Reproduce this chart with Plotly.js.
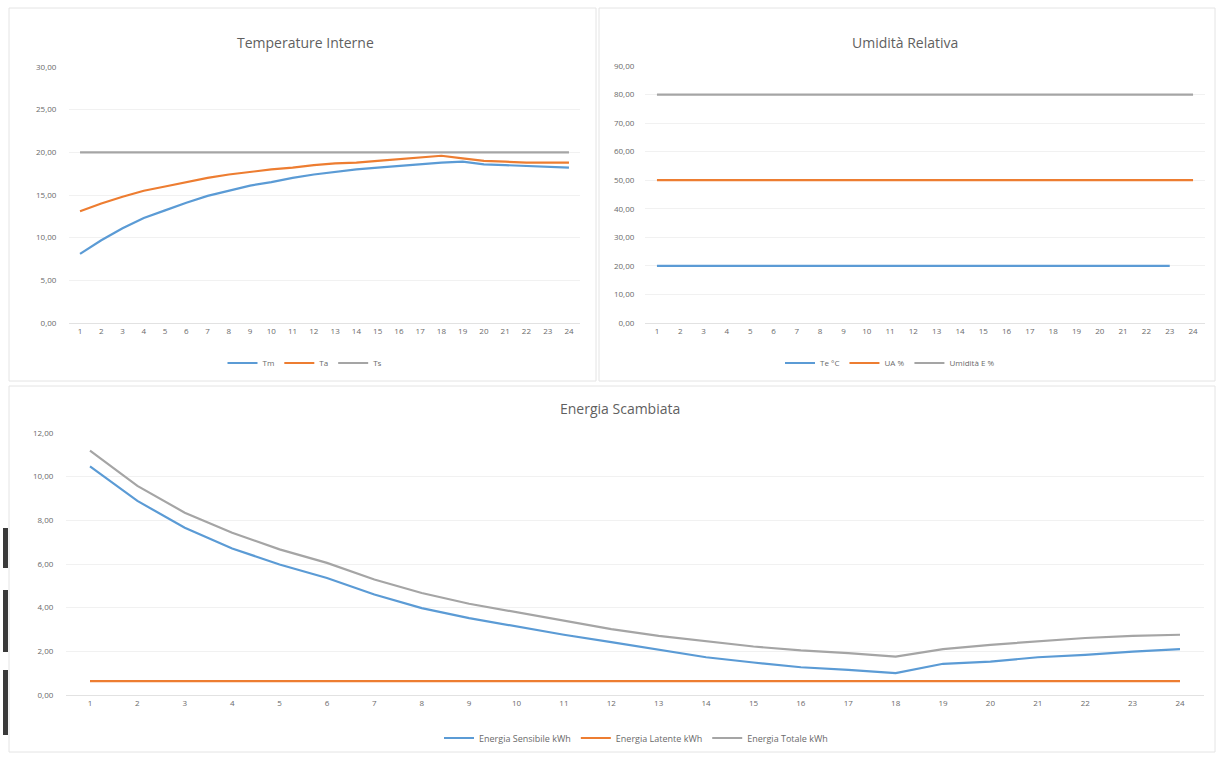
<!DOCTYPE html>
<html>
<head>
<meta charset="utf-8">
<script src="https://cdn.plot.ly/plotly-3.0.1.min.js"></script>
<style>html,body{margin:0;padding:0;background:#fff;}#chart{width:1223px;height:758px;}</style>
</head>
<body>
<div id="chart"></div>
<script>
// ---- data ----
const hours = [1,2,3,4,5,6,7,8,9,10,11,12,13,14,15,16,17,18,19,20,21,22,23,24];

// Temperature Interne
const tempNames = ["Tm", "Ta", "Ts"];
const tm = [8.1,9.7,11.1,12.3,13.2,14.1,14.9,15.5,16.1,16.5,17.0,17.4,17.7,18.0,18.2,18.4,18.6,18.8,18.9,18.6,18.5,18.4,18.3,18.2];
const ta = [13.1,14.0,14.8,15.5,16.0,16.5,17.0,17.4,17.7,18.0,18.2,18.5,18.7,18.8,19.0,19.2,19.4,19.6,19.3,19.0,18.9,18.8,18.8,18.8];
const ts = [20,20,20,20,20,20,20,20,20,20,20,20,20,20,20,20,20,20,20,20,20,20,20,20];

// Umidità Relativa
const humNames = ["Te °C", "UA %", "Umidità E %"];
const te = [20,20,20,20,20,20,20,20,20,20,20,20,20,20,20,20,20,20,20,20,20,20,20,null];
const ua = [50,50,50,50,50,50,50,50,50,50,50,50,50,50,50,50,50,50,50,50,50,50,50,50];
const ue = [80,80,80,80,80,80,80,80,80,80,80,80,80,80,80,80,80,80,80,80,80,80,80,80];

// Energia Scambiata
const enNames = ["Energia Sensibile kWh", "Energia Latente kWh", "Energia Totale kWh"];
const sens = [10.47,8.89,7.66,6.71,5.98,5.36,4.60,3.98,3.52,3.14,2.76,2.42,2.07,1.73,1.49,1.27,1.15,1.00,1.43,1.53,1.73,1.84,1.99,2.10];
const lat  = [0.64,0.64,0.64,0.64,0.64,0.64,0.64,0.64,0.64,0.64,0.64,0.64,0.64,0.64,0.64,0.64,0.64,0.64,0.64,0.64,0.64,0.64,0.64,0.64];
const tot  = [11.19,9.58,8.35,7.43,6.67,6.05,5.29,4.67,4.18,3.79,3.42,3.02,2.71,2.45,2.22,2.04,1.92,1.76,2.10,2.30,2.45,2.61,2.71,2.76];

const titles = ["Temperature Interne", "Umidità Relativa", "Energia Scambiata"];

// ---- styling ----
const W = 1223, H = 758;
const colors = ["#5B9BD5", "#ED7D31", "#A5A5A5"];
const txt = "#6a6a6a";
const FONT = "Open Sans, Liberation Sans, sans-serif";
const px = v => v / W;
const py = v => 1 - v / H;

function tr(x, y, name, i, xa, ya, leg) {
  return {x: x, y: y, name: name, type: "scatter", mode: "lines",
    xaxis: xa, yaxis: ya, legend: leg,
    line: {color: colors[i], width: 2.2}, hoverinfo: "x+y+name"};
}

const data = [
  tr(hours, tm, tempNames[0], 0, "x", "y", "legend"),
  tr(hours, ta, tempNames[1], 1, "x", "y", "legend"),
  tr(hours, ts, tempNames[2], 2, "x", "y", "legend"),
  tr(hours, te, humNames[0], 0, "x2", "y2", "legend2"),
  tr(hours, ua, humNames[1], 1, "x2", "y2", "legend2"),
  tr(hours, ue, humNames[2], 2, "x2", "y2", "legend2"),
  tr(hours, sens, enNames[0], 0, "x3", "y3", "legend3"),
  tr(hours, lat, enNames[1], 1, "x3", "y3", "legend3"),
  tr(hours, tot, enNames[2], 2, "x3", "y3", "legend3")
];

function xax(d, anchor) {
  return {domain: d, anchor: anchor, range: [0.5, 24.5], tickmode: "array",
    tickvals: hours, ticktext: hours.map(String), showgrid: false, zeroline: false,
    showline: true, linecolor: "#e2e2e2", linewidth: 1, ticks: "",
    tickfont: {size: 8, color: txt, family: FONT}, fixedrange: true};
}
function yax(d, anchor, rng, dt, so) {
  return {domain: d, anchor: anchor, range: rng, dtick: dt, tick0: 0,
    tickformat: ".2f", showgrid: true, gridcolor: "#f1f1f1", gridwidth: 1,
    zeroline: false, showline: false, ticks: "", ticklen: 0, ticklabelstandoff: so,
    tickfont: {size: 8, color: txt, family: FONT}, fixedrange: true};
}

function legend(x, y, fs) {
  return {x: x, y: y, xanchor: "center", yanchor: "middle", orientation: "h",
    font: {size: fs, color: txt, family: FONT}, bgcolor: "rgba(0,0,0,0)",
    itemwidth: 30, tracegroupgap: 0, itemclick: false, itemdoubleclick: false};
}

function border(x0, y0, x1, y1) {
  return {type: "rect", xref: "paper", yref: "paper", x0: px(x0), x1: px(x1),
    y0: py(y1), y1: py(y0), line: {color: "#e4e4e4", width: 1}, fillcolor: "rgba(0,0,0,0)", layer: "below"};
}
function bar(y0, y1) {
  return {type: "rect", xref: "paper", yref: "paper", x0: px(3), x1: px(8),
    y0: py(y1), y1: py(y0), line: {width: 0}, fillcolor: "#3a3a3a"};
}
function title(t, x, y) {
  return {text: t, xref: "paper", yref: "paper", x: px(x), y: py(y),
    xanchor: "center", yanchor: "middle", showarrow: false,
    font: {size: 14, color: "#5f5f5f", family: FONT}};
}

const layout = {
  width: W, height: H, margin: {l: 0, r: 0, t: 0, b: 0},
  paper_bgcolor: "#fff", plot_bgcolor: "#fff",
  separators: ",.", showlegend: true,
  font: {family: FONT, color: txt},
  xaxis: xax([px(69.4), px(579.6)], "y"),
  yaxis: yax([py(323), py(67)], "x", [0, 30], 5, 12),
  xaxis2: xax([px(645.3), px(1204.7)], "y2"),
  yaxis2: yax([py(323), py(66)], "x2", [0, 90], 10, 10),
  xaxis3: xax([px(66.3), px(1203.7)], "y3"),
  yaxis3: yax([py(695), py(433)], "x3", [0, 12], 2, 12),
  legend: legend(px(305), py(363), 8),
  legend2: legend(px(890), py(363), 8),
  legend3: legend(px(636), py(738), 9),
  annotations: [
    title(titles[0], 305, 42),
    title(titles[1], 905, 42),
    title(titles[2], 620, 408)
  ],
  shapes: [
    border(9, 8, 596, 381),
    border(599, 8, 1215, 381),
    border(9, 386, 1215, 752),
    bar(528, 568), bar(590, 652), bar(670, 735)
  ]
};

Plotly.newPlot("chart", data, layout, {displayModeBar: false, staticPlot: true});
</script>
</body>
</html>
